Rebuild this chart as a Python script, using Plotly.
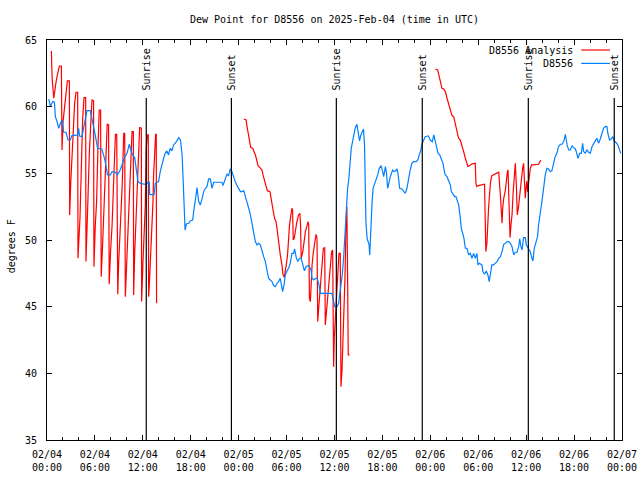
import pandas as pd
import plotly.graph_objects as go

START = pd.Timestamp("2025-02-04 00:00")

# ---- D8556 observations (hours after 02/04 00:00 UTC, dew point F) ----
obs_hours = [0.22, 0.43, 0.55, 0.72, 0.93, 1.05, 1.26, 1.47, 1.68, 1.88, 2.09, 2.38, 2.63, 2.92, 3.13, 3.55, 3.84, 3.96, 4.08, 4.38,
             4.59, 4.79, 5.0, 5.42, 5.63, 5.83, 6.04, 6.33, 6.87, 7.08, 7.29, 7.58, 7.91, 8.15, 8.57, 8.78, 9.07, 9.40, 9.69, 10.02,
             10.31, 10.56, 10.73, 10.98, 11.15, 11.39, 11.69, 12.31, 12.52, 12.81, 12.86, 13.41, 13.56, 13.97, 14.18, 14.39, 14.60, 14.80, 15.01, 15.22,
             15.43, 15.64, 15.85, 16.21, 16.50, 16.71, 16.92, 17.04, 17.17, 17.29, 17.45, 17.75, 17.96, 18.24, 18.37, 18.58, 18.79, 18.99, 19.20, 19.41,
             19.62, 19.83, 20.03, 20.24, 20.45, 20.66, 20.87, 21.07, 21.91, 22.03, 22.32, 22.53, 22.74, 22.95, 23.15, 23.28, 23.57, 23.86, 24.22, 24.43,
             24.64, 24.84, 25.05, 25.26, 25.47, 25.67, 25.88, 26.09, 26.30, 26.51, 26.72, 26.92, 27.13, 27.34, 27.55, 27.75, 27.96, 28.17, 28.38, 28.59,
             28.80, 29.0, 29.21, 29.34, 29.50, 29.71, 29.84, 30.05, 30.25, 30.46, 30.67, 30.88, 31.0, 31.21, 31.41, 31.62, 31.83, 32.04, 32.23, 32.44,
             32.65, 32.86, 33.07, 33.19, 33.4, 33.61, 33.82, 34.02, 34.23, 35.69, 35.89, 36.02, 36.31, 36.52, 36.64, 36.81, 36.97, 37.14, 37.22, 37.34,
             37.47, 37.64, 37.80, 37.97, 38.10, 38.26, 38.39, 38.59, 38.80, 39.01, 39.14, 39.30, 39.47, 39.63, 39.76, 39.84, 39.93, 40.08, 40.21, 40.33,
             40.41, 40.50, 40.58, 40.71, 40.83, 41.0, 41.20, 41.41, 41.62, 41.83, 42.03, 42.16, 42.37, 42.49, 42.66, 42.78, 42.99, 43.28, 43.49, 43.65,
             43.82, 43.95, 44.16, 44.44, 44.65, 44.86, 45.07, 45.28, 45.48, 45.69, 45.90, 46.23, 46.44, 46.61, 46.82, 46.94, 47.15, 47.36, 47.65, 47.77,
             47.98, 48.25, 48.43, 48.63, 48.84, 48.97, 49.18, 49.38, 49.59, 49.76, 49.88, 50.09, 50.30, 50.51, 50.63, 50.84, 51.05, 51.21, 51.38, 51.55,
             51.71, 51.88, 52.05, 52.21, 52.38, 52.59, 52.79, 53.0, 53.21, 53.42, 53.63, 53.84, 53.96, 54.13, 54.33, 54.46, 54.58, 54.79, 55.0, 55.21,
             55.37, 55.54, 55.70, 55.91, 56.12, 56.36, 56.56, 56.77, 56.98, 57.19, 57.40, 57.60, 57.81, 58.02, 58.23, 58.44, 58.64, 58.85, 59.06, 59.19,
             59.35, 59.48, 59.68, 59.89, 60.02, 60.31, 60.51, 60.72, 60.85, 61.01, 61.22, 61.43, 61.55, 61.68, 61.85, 61.97, 62.18, 62.26, 62.39, 62.60,
             62.80, 63.01, 63.22, 63.43, 63.63, 63.84, 64.05, 64.29, 64.50, 64.70, 64.91, 65.12, 65.33, 65.54, 65.74, 65.95, 66.16, 66.37, 66.49, 66.70,
             66.91, 67.07, 67.20, 67.40, 67.61, 67.82, 68.03, 68.24, 68.44, 68.65, 68.86, 69.07, 69.28, 69.48, 69.69, 69.90, 70.11, 70.23, 70.44, 70.65,
             70.86, 71.02, 71.23, 71.48, 71.69, 71.85]
obs_dewpt = [60.57, 60.0, 60.18, 60.38, 60.33, 59.25, 58.88, 58.38, 58.75, 59.0, 58.08, 58.08, 57.5, 57.5, 57.83, 57.83, 57.88, 58.38, 57.8, 57.75,
             58.43, 58.88, 59.7, 59.7, 59.13, 58.63, 57.88, 56.88, 56.83, 56.38, 55.88, 54.88, 54.88, 55.13, 55.08, 54.88, 55.13, 55.63, 56.18, 56.5,
             57.18, 56.63, 56.38, 56.18, 55.38, 54.38, 54.25, 54.18, 54.25, 54.38, 53.4, 53.4, 54.25, 54.38, 55.13, 55.75, 56.13, 56.5, 56.68, 56.38,
             56.88, 56.68, 57.13, 57.38, 57.68, 57.5, 56.38, 54.63, 52.13, 50.75, 51.2, 51.25, 51.45, 51.5, 52.13, 52.88, 53.93, 52.88, 52.63, 53.08,
             53.63, 53.88, 54.0, 54.58, 54.58, 53.88, 54.33, 54.33, 54.33, 54.08, 54.63, 54.93, 54.83, 55.33, 55.13, 54.88, 54.38, 54.0, 53.63, 53.63,
             53.7, 53.25, 52.88, 52.38, 51.88, 51.13, 50.38, 49.88, 49.63, 49.75, 49.63, 49.13, 48.75, 48.38, 47.75, 47.13, 47.0, 46.88, 46.58, 46.5,
             46.75, 46.88, 47.13, 46.75, 46.13, 46.75, 47.38, 47.68, 47.88, 48.25, 49.0, 49.0, 49.33, 48.68, 48.38, 48.63, 48.63, 48.13, 47.7, 48.0,
             48.08, 48.0, 47.75, 47.13, 47.0, 47.13, 47.13, 46.75, 46.0, 46.0, 45.38, 45.0, 45.0, 45.25, 45.88, 46.63, 47.38, 48.63, 49.63, 50.63,
             52.38, 53.88, 54.63, 56.38, 56.88, 57.38, 57.88, 58.38, 58.68, 58.0, 57.43, 57.88, 58.08, 58.33, 57.13, 54.63, 51.38, 50.13, 49.75, 49.63,
             48.88, 50.63, 51.63, 52.88, 53.88, 54.13, 54.5, 54.88, 55.38, 55.58, 55.13, 54.75, 55.5, 55.13, 53.88, 54.25, 54.75, 55.25, 55.13, 55.18,
             55.33, 55.0, 53.88, 53.83, 53.63, 53.5, 53.88, 54.63, 55.25, 55.75, 55.88, 55.88, 56.0, 56.38, 56.75, 57.18, 57.5, 57.75, 57.8, 57.8,
             57.5, 57.38, 57.88, 57.38, 57.0, 56.5, 56.38, 56.0, 55.75, 55.13, 54.88, 54.75, 54.38, 54.13, 53.63, 53.38, 53.25, 53.25, 52.88, 52.63,
             51.88, 50.88, 50.5, 50.13, 49.38, 49.38, 48.88, 49.0, 48.63, 49.0, 48.63, 49.0, 48.13, 48.25, 48.18, 48.13, 47.63, 47.43, 47.68, 47.38,
             46.88, 47.63, 48.13, 48.13, 48.25, 48.38, 48.63, 48.75, 49.13, 49.68, 49.75, 49.88, 49.88, 49.75, 49.5, 48.88, 49.08, 49.08, 49.5, 50.08,
             49.5, 49.25, 50.18, 50.18, 49.63, 49.38, 49.13, 48.63, 48.43, 49.38, 49.75, 50.25, 51.13, 51.88, 52.38, 52.88, 53.63, 54.25, 54.88, 55.38,
             55.33, 55.13, 55.18, 55.75, 56.25, 56.5, 57.0, 57.18, 57.18, 57.38, 57.93, 57.13, 56.75, 56.75, 57.08, 56.93, 56.83, 56.43, 56.13, 56.5,
             56.5, 57.25, 56.63, 56.5, 56.75, 56.58, 56.5, 57.0, 57.25, 57.43, 57.63, 57.25, 57.58, 58.0, 58.38, 58.5, 58.5, 58.0, 57.5, 57.58,
             57.75, 57.43, 57.33, 57.13, 56.83, 56.5]

# ---- D8556 Analysis (three runs) ----
ana1_hours = [0.55, 0.64, 0.85, 0.97, 1.14, 1.30, 1.47, 1.55, 1.80, 1.88, 2.01, 2.22, 2.38, 2.55, 2.80, 2.84, 2.97, 3.13, 3.34, 3.46,
              3.63, 3.84, 3.88, 3.96, 4.13, 4.30, 4.46, 4.63, 4.84, 4.88, 5.0, 5.13, 5.29, 5.46, 5.63, 5.83, 5.88, 6.04, 6.21, 6.38,
              6.54, 6.71, 6.79, 6.96, 7.12, 7.29, 7.54, 7.71, 7.79, 7.96, 8.15, 8.36, 8.57, 8.73, 8.86, 8.98, 9.19, 9.40, 9.61, 9.73,
              9.81, 9.98, 10.15, 10.31, 10.48, 10.65, 10.81, 10.85, 10.98, 11.19, 11.39, 11.60, 11.81, 11.85, 12.02, 12.18, 12.31, 12.43, 12.56, 12.68,
              12.73, 12.85, 12.98, 13.14, 13.27, 13.35, 13.48, 13.60, 13.68, 13.72]
ana1_dewpt = [64.18, 62.13, 60.63, 61.38, 61.88, 62.38, 62.88, 63.05, 63.05, 56.75, 58.88, 60.13, 60.88, 61.93, 61.93, 51.88, 54.25, 55.88, 58.75, 60.25,
              61.08, 61.08, 48.63, 49.63, 51.63, 55.88, 59.0, 60.68, 60.68, 48.38, 51.5, 53.13, 56.38, 58.88, 60.5, 60.43, 48.0, 51.0, 52.88, 56.88,
              59.75, 59.75, 47.25, 49.63, 52.38, 55.25, 58.7, 58.63, 46.68, 49.13, 51.13, 54.63, 57.93, 57.93, 45.93, 48.38, 51.0, 53.88, 58.0, 58.0,
              45.75, 48.13, 50.63, 52.88, 55.5, 58.13, 58.13, 45.88, 49.0, 52.38, 55.63, 58.43, 58.38, 45.38, 48.38, 50.63, 52.63, 56.88, 57.88, 57.88,
              45.75, 47.13, 48.88, 50.63, 52.88, 54.88, 56.88, 57.93, 57.93, 45.25]

ana2_hours = [24.64, 24.93, 25.05, 25.17, 25.34, 25.51, 25.76, 25.92, 26.09, 26.26, 26.42, 26.67, 26.92, 27.05, 27.25, 27.42, 27.59, 27.92, 28.04, 28.17,
              28.34, 28.50, 28.67, 28.79, 28.92, 29.04, 29.21, 29.42, 29.54, 29.71, 29.84, 29.96, 30.12, 30.25, 30.37, 30.54, 30.67, 30.75, 30.83, 30.96,
              31.08, 31.29, 31.50, 31.66, 31.75, 31.83, 32.03, 32.19, 32.36, 32.53, 32.69, 32.77, 32.86, 32.98, 33.07, 33.19, 33.36, 33.52, 33.69, 33.81,
              33.90, 34.02, 34.15, 34.31, 34.44, 34.60, 34.77, 34.85, 34.98, 35.14, 35.31, 35.48, 35.64, 35.77, 35.89, 35.97, 36.10, 36.22, 36.31, 36.43,
              36.56, 36.72, 36.81, 36.93, 37.06, 37.18, 37.31, 37.43, 37.55, 37.64, 37.72, 37.89]
ana2_dewpt = [59.08, 59.0, 58.5, 58.0, 57.38, 56.93, 56.88, 56.68, 56.38, 56.0, 55.58, 55.43, 55.25, 54.88, 54.38, 54.0, 53.7, 53.63, 53.13, 52.63,
              52.13, 51.63, 51.38, 50.93, 50.13, 49.5, 48.88, 48.13, 47.43, 47.2, 47.63, 48.13, 48.88, 50.13, 51.13, 51.88, 52.38, 52.25, 50.0, 50.13,
              50.63, 51.38, 51.88, 52.0, 51.13, 48.63, 49.13, 50.13, 50.63, 51.0, 51.38, 51.13, 45.63, 45.38, 47.13, 48.13, 49.13, 49.88, 50.43, 50.13,
              43.88, 44.88, 46.13, 47.38, 48.13, 49.38, 49.43, 43.63, 44.63, 45.63, 46.63, 48.13, 49.13, 49.25, 40.5, 42.63, 44.13, 44.88, 46.63, 48.13,
              49.0, 49.0, 39.0, 40.13, 42.38, 44.13, 47.13, 50.88, 52.5, 47.13, 41.38, 41.38]

ana3_hours = [48.63, 48.92, 49.05, 49.26, 49.46, 49.67, 49.88, 50.09, 50.30, 50.51, 50.71, 50.92, 51.13, 51.34, 51.54, 51.75, 51.96, 52.17, 52.38, 52.59,
              52.71, 53.21, 53.63, 53.71, 53.83, 54.04, 54.79, 54.87, 54.95, 55.08, 55.20, 55.29, 55.41, 55.54, 55.70, 55.91, 56.12, 56.56, 56.77, 56.90,
              56.98, 57.06, 57.19, 57.40, 57.52, 57.65, 57.73, 57.81, 57.90, 57.98, 58.10, 58.23, 58.35, 58.52, 58.64, 58.77, 58.89, 59.02, 59.14, 59.27,
              59.39, 59.56, 59.68, 59.81, 59.89, 60.02, 60.10, 60.18, 60.27, 60.39, 60.52, 60.60, 60.68, 60.93, 61.26, 61.55, 61.68, 61.85]
ana3_dewpt = [62.83, 62.75, 62.43, 61.88, 61.38, 61.33, 61.13, 60.63, 60.13, 59.63, 59.33, 59.25, 58.75, 58.25, 57.63, 57.5, 57.13, 56.63, 56.13, 55.68,
              55.5, 55.7, 55.75, 54.25, 54.0, 54.08, 54.18, 51.63, 49.13, 49.75, 51.63, 52.38, 53.38, 54.38, 54.83, 54.88, 54.95, 55.08, 53.38, 51.63,
              51.25, 52.38, 53.13, 53.75, 54.63, 55.13, 55.25, 53.63, 51.63, 50.18, 51.13, 51.88, 53.38, 54.63, 55.75, 54.13, 51.88, 52.38, 53.13, 53.88,
              54.63, 55.38, 55.75, 54.38, 53.13, 54.13, 54.43, 53.63, 54.25, 54.88, 55.38, 55.5, 55.63, 55.63, 55.68, 55.68, 55.83, 56.0]

# ---- sun events ----
sun_hours = [12.43, 23.09, 36.23, 46.99, 60.27, 71.03]
sun_labels = ["Sunrise", "Sunset", "Sunrise", "Sunset", "Sunrise", "Sunset"]

# ---- axes ----
x_tick_hours = [0, 6, 12, 18, 24, 30, 36, 42, 48, 54, 60, 66, 72]
x_tick_labels = ["02/04<br>00:00", "02/04<br>06:00", "02/04<br>12:00", "02/04<br>18:00",
                 "02/05<br>00:00", "02/05<br>06:00", "02/05<br>12:00", "02/05<br>18:00",
                 "02/06<br>00:00", "02/06<br>06:00", "02/06<br>12:00", "02/06<br>18:00",
                 "02/07<br>00:00"]
y_ticks = [35, 40, 45, 50, 55, 60, 65]

title_text = "Dew Point for D8556 on 2025-Feb-04 (time in UTC)"
y_title = "degrees F"
legend_names = ["D8556 Analysis", "D8556"]

RED = "#ff0000"
BLUE = "#0080ff"
FONT = "DejaVu Sans Mono"


def to_time(hours):
    return [START + pd.Timedelta(hours=h) for h in hours]


fig = go.Figure()
for hrs, vals in [(ana1_hours, ana1_dewpt), (ana2_hours, ana2_dewpt), (ana3_hours, ana3_dewpt)]:
    fig.add_trace(go.Scatter(x=to_time(hrs), y=vals, mode="lines", name=legend_names[0],
                             line=dict(color=RED, width=1.2), showlegend=False))
fig.add_trace(go.Scatter(x=to_time(obs_hours), y=obs_dewpt, mode="lines", name=legend_names[1],
                         line=dict(color=BLUE, width=1.2), showlegend=False))

# sunrise / sunset markers
for h, lab in zip(sun_hours, sun_labels):
    t = START + pd.Timedelta(hours=h)
    fig.add_shape(type="line", xref="x", yref="paper", x0=t, x1=t, y0=0, y1=0.855,
                  line=dict(color="black", width=1.2), layer="above")
    fig.add_annotation(x=t, xref="x", y=0.872, yref="paper", text=lab, textangle=-90,
                       showarrow=False, xanchor="center", yanchor="bottom",
                       font=dict(family=FONT, size=10, color="black"), borderpad=0)

# manual gnuplot-style legend (text, then line sample)
for i, (name, col) in enumerate(zip(legend_names, [RED, BLUE])):
    yy = 0.975 - i * 0.0335
    fig.add_annotation(x=0.917, xref="paper", y=yy, yref="paper", text=name, showarrow=False,
                       xanchor="right", yanchor="middle", font=dict(family=FONT, size=10, color="black"),
                       borderpad=0)
    fig.add_shape(type="line", xref="paper", yref="paper", x0=0.929, x1=0.979, y0=yy, y1=yy,
                  line=dict(color=col, width=1.2))

# y-axis title
fig.add_annotation(x=-0.062, xref="paper", y=0.485, yref="paper", text=y_title, textangle=-90,
                   showarrow=False, xanchor="center", yanchor="middle",
                   font=dict(family=FONT, size=10, color="black"))

fig.update_layout(
    width=640, height=480,
    autosize=False,
    margin=dict(l=47, r=18, t=40, b=40, autoexpand=False),
    paper_bgcolor="white", plot_bgcolor="white",
    showlegend=False,
    font=dict(family=FONT, size=10, color="black"),
    title=dict(text=title_text, x=0.5, xref="paper", xanchor="center",
               y=1 - 19 / 480, yref="container", yanchor="middle",
               font=dict(family=FONT, size=10, color="black")),
)
fig.update_xaxes(
    type="date", automargin=False,
    range=[START, START + pd.Timedelta(hours=72)],
    tickvals=to_time(x_tick_hours), ticktext=x_tick_labels,
    ticks="inside", ticklen=5, tickcolor="black", tickwidth=1,
    showline=True, linecolor="black", linewidth=1, mirror="allticks",
    showgrid=False, zeroline=False,
    minor=dict(dtick=2 * 3600 * 1000, tick0=START, ticks="inside", ticklen=3,
               tickcolor="black", showgrid=False),
    ticklabelstandoff=5,
)
fig.update_yaxes(
    automargin=False,
    range=[35, 65], tickvals=y_ticks,
    ticks="inside", ticklen=5, tickcolor="black", tickwidth=1,
    showline=True, linecolor="black", linewidth=1, mirror="allticks",
    showgrid=False, zeroline=False,
    ticklabelstandoff=7,
)

fig.write_html("out.html", config={"responsive": False, "displayModeBar": False},
               post_script="document.body.style.margin='0px';document.body.style.overflow='hidden';")
